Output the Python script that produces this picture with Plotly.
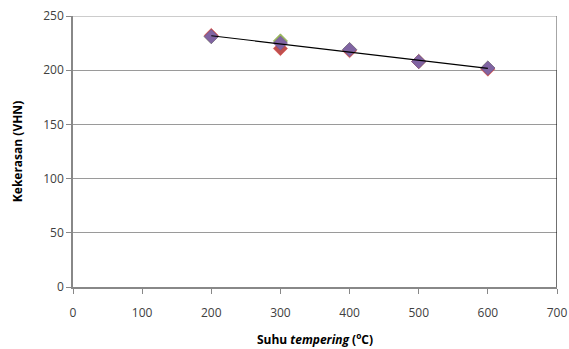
import numpy as np
import plotly.graph_objects as go

suhu = [200, 300, 400, 500, 600]
seri_merah = [232, 220, 218, 208, 201]
seri_hijau = [231, 227, 219, 208, 202]
seri_ungu = [231, 225, 219, 208, 202]
x_ticks = [0, 100, 200, 300, 400, 500, 600, 700]
y_ticks = [0, 50, 100, 150, 200, 250]

fig = go.Figure()

# linear trendline through the averaged data
mean_vals = np.mean([seri_merah, seri_hijau, seri_ungu], axis=0)
coef = np.polyfit(suhu, mean_vals, 1)
trend_x = [suhu[0], suhu[-1]]
trend_y = list(np.polyval(coef, trend_x))

for vals, col, line in [(seri_hijau, "#9BBB59", "#7f9c45"),
                        (seri_merah, "#C0504D", "#e05050"),
                        (seri_ungu, "#8064A2", "#6d5590")]:
    fig.add_trace(go.Scatter(x=suhu, y=vals, mode="markers",
                             marker=dict(symbol="diamond", size=11, color=col,
                                         line=dict(width=0.5, color=line)),
                             showlegend=False))

fig.add_trace(go.Scatter(x=trend_x, y=trend_y, mode="lines",
                         line=dict(color="black", width=1.2), showlegend=False))

# top gridline and right border of the plot area
fig.add_shape(type="line", xref="paper", yref="y", x0=0, x1=1, y0=y_ticks[-1], y1=y_ticks[-1],
              line=dict(color="#9a9a9a", width=1.2), layer="below")
fig.add_shape(type="line", xref="x", yref="y", x0=x_ticks[-1], x1=x_ticks[-1], y0=250, y1=200,
              line=dict(color="#888888", width=1.5))
fig.add_shape(type="line", xref="x", yref="y", x0=x_ticks[-1], x1=x_ticks[-1], y0=200, y1=0,
              line=dict(color="#111111", width=1.2))

tick_font = dict(family="Open Sans, Liberation Sans, sans-serif", size=12, color="#404040")

fig.update_xaxes(range=[0, 700], tickvals=x_ticks, ticktext=[str(v) for v in x_ticks],
                 showgrid=False, zeroline=False, showline=True, linecolor="#888888",
                 linewidth=1.5, ticks="outside", ticklen=5, tickcolor="#888888",
                 tickfont=tick_font, automargin=False, ticklabelstandoff=9,
                 title=dict(text="<b>Suhu <i>tempering</i> (<sup>o</sup>C)</b>",
                            font=dict(family="Open Sans, Liberation Sans, sans-serif",
                                      size=12, color="black"),
                            standoff=15))
fig.update_yaxes(range=[0, 250], tickvals=y_ticks, showgrid=True, gridcolor="#9a9a9a",
                 gridwidth=1.2, zeroline=False, showline=True, linecolor="#888888",
                 linewidth=1.5, ticks="outside", ticklen=5, tickcolor="#888888",
                 tickfont=tick_font, automargin=False,
                 title=dict(text="<b>Kekerasan (VHN)</b>",
                            font=dict(family="Open Sans, Liberation Sans, sans-serif",
                                      size=12, color="black"),
                            standoff=18))

fig.update_layout(width=569, height=349, margin=dict(l=73, r=12, t=16, b=62),
                  plot_bgcolor="white", paper_bgcolor="white")

fig.write_html("out.html", config={"displayModeBar": False},
               post_script="document.body.style.margin='0';"
                           "document.documentElement.style.overflow='hidden';"
                           "document.body.style.overflow='hidden';")
